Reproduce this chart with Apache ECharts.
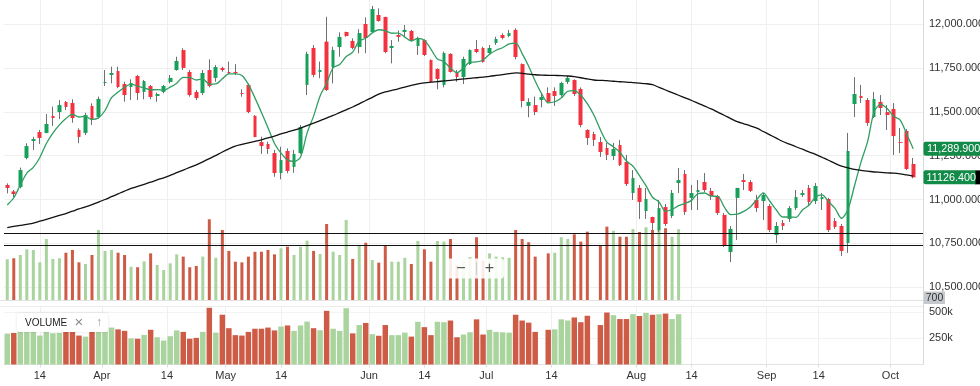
<!DOCTYPE html>
<html><head><meta charset="utf-8">
<script src="https://cdn.jsdelivr.net/npm/echarts@6/dist/echarts.min.js"></script>
<style>html,body{margin:0;padding:0;background:#fff}#c{width:980px;height:386px}</style>
</head><body><div id="c"></div>
<script>
// [open, close, low, high]
const ohlc = [
[11083,11066,11035,11092],[11046,11031,11014,11054],[11071,11168,11064,11182],[11237,11305,11229,11321],[11334,11345,11283,11358],
[11385,11351,11317,11397],[11380,11431,11378,11488],[11477,11465,11420,11530],[11499,11539,11459,11568],[11557,11528,11511,11562],
[11551,11465,11438,11572],[11397,11357,11321,11406],[11380,11482,11368,11495],[11534,11454,11425,11549],[11471,11574,11463,11587],
[11665,11671,11648,11739],[11711,11722,11663,11758],[11733,11642,11635,11758],[11659,11596,11558,11672],[11642,11665,11568,11686],
[11705,11608,11568,11711],[11614,11676,11572,11682],[11648,11585,11572,11654],[11591,11602,11558,11610],[11614,11648,11606,11654],
[11671,11694,11663,11711],[11739,11791,11735,11815],[11853,11751,11739,11863],[11728,11596,11587,11739],[11614,11579,11568,11625],
[11608,11722,11596,11739],[11739,11648,11640,11800],[11694,11756,11672,11768],[11751,11739,11729,11758],[11728,11722,11716,11787],
[11728,11722,11711,11773],[11608,11602,11587,11629],[11654,11499,11492,11663],[11477,11357,11355,11482],[11328,11305,11260,11358],
[11317,11288,11260,11330],[11265,11151,11130,11283],[11151,11225,11115,11301],[11277,11163,11150,11292],[11186,11260,11153,11283],
[11265,11414,11260,11425],[11654,11831,11596,11844],[11865,11711,11698,11882],[11728,11739,11692,11787],[11901,11625,11620,12043],
[11756,11853,11663,11872],[11870,11928,11815,11954],[11956,11933,11929,11958],[11905,11865,11857,11920],[11870,11950,11835,11972],
[12002,11922,11835,12040],[11956,12087,11949,12105],[12053,12019,12015,12091],[12042,11842,11835,12043],[11865,11876,11777,11910],
[11939,11928,11901,11964],[11956,11968,11929,11996],[11962,11910,11901,11968],[11876,11916,11825,11929],[11910,11825,11819,11914],
[11796,11671,11667,11800],[11745,11688,11629,11749],[11654,11836,11640,11844],[11831,11728,11724,11835],[11728,11699,11672,11739],
[11699,11802,11659,11815],[11773,11853,11768,11857],[11859,11842,11835,11910],[11865,11785,11781,11872],[11836,11865,11831,11882],
[11893,11916,11882,11929],[11939,11922,11914,11949],[11933,11950,11926,11968],[11968,11813,11800,11977],[11773,11562,11526,11777],
[11534,11557,11469,11578],[11539,11499,11482,11587],[11568,11585,11526,11606],[11608,11557,11549,11640],[11619,11591,11534,11640],
[11596,11665,11587,11672],[11671,11694,11659,11705],[11682,11602,11591,11686],[11631,11425,11412,11640],[11397,11351,11311,11401],
[11374,11340,11305,11387],[11328,11271,11243,11357],[11294,11254,11225,11323],[11248,11288,11225,11323],[11311,11197,11191,11340],
[11214,11088,11077,11254],[11037,11123,10997,11168],[11066,10986,10889,11083],[10934,11003,10889,11066],[10900,10866,10826,10902],
[10826,10951,10814,10997],[10957,10860,10849,10974],[10906,11037,10894,11054],[11094,11111,11037,11180],[11146,10929,10912,11168],
[11009,11037,10940,11083],[11043,11054,10940,11111],[11100,11054,11043,11151],[11049,11020,10997,11066],[11020,10923,10912,11026],
[10912,10740,10729,10923],[10700,10832,10643,10849],[11009,11066,10769,11066],[11111,11100,11054,11146],[11100,11049,11043,11111],
[10997,10951,10929,11026],[10991,11026,10883,11037],[10963,10826,10814,10974],[10797,10849,10752,10872],[10866,10849,10826,10883],
[10889,10951,10872,10963],[10951,11014,10940,11054],[11026,11037,11014,11054],[11066,10986,10969,11083],[10991,11077,10974,11094],
[11003,11014,10940,11037],[11003,10826,10814,11009],[10877,10843,10832,10894],[10849,10706,10678,10860],[10752,11277,10695,11380],
[11545,11602,11471,11699],[11591,11579,11551,11654],[11568,11437,11420,11579],[11471,11574,11465,11614],[11557,11522,11482,11596],
[11499,11482,11397,11539],[11517,11362,11254,11551],[11328,11323,11265,11408],[11391,11174,11168,11402],[11203,11126.4,11121,11237]
];
const maFast = [
10969,11010,11083,11151,11183,11240,11320,11379,11426,11463,
11486,11471,11474,11457,11466,11508,11581,11613,11641,11659,
11647,11637,11626,11627,11624,11641,11664,11697,11696,11682,
11688,11659,11660,11689,11717,11717,11708,11657,11580,11497,
11410,11320,11265,11226,11217,11243,11379,11476,11591,11664,
11752,11771,11816,11841,11906,11920,11951,11969,11964,11949,
11950,11927,11905,11920,11909,11858,11802,11787,11750,11724,
11751,11784,11785,11796,11829,11852,11866,11888,11893,11833,
11761,11676,11603,11552,11558,11579,11618,11622,11595,11547,
11482,11398,11328,11301,11270,11220,11190,11136,11079,11013,
10986,10933,10943,10965,10978,10995,11034,11037,11019,11018,
10958,10914,10916,10932,10957,11000,11038,10990,10940,10900,
10900,10898,10940,10967,11013,11026,10988,10949,10893,10945,
11080,11215,11330,11500,11543,11519,11475,11453,11373,11289.9
];
const maSlow = [
10840,10846,10852,10858,10865,10876,10887,10898,10909,10920,
10933,10946,10958,10971,10985,11000,11016,11032,11048,11063,
11075,11087,11099,11112,11124,11138,11153,11168,11183,11198,
11215,11233,11252,11271,11289,11305,11314,11323,11332,11341,
11352,11362,11374,11385,11396,11408,11422,11436,11450,11465,
11480,11496,11512,11528,11546,11565,11583,11602,11614,11623,
11632,11642,11651,11660,11666,11670,11673,11677,11680,11684,
11688,11691,11695,11699,11703,11708,11713,11718,11723,11720,
11716,11712,11710,11709,11708,11707,11705,11701,11695,11688,
11682,11680,11678,11675,11672,11670,11667,11664,11661,11655,
11640,11625,11610,11595,11580,11565,11549,11533,11517,11499,
11481,11462,11444,11432,11420,11407,11388,11369,11350,11331,
11316,11301,11287,11272,11258,11241,11224,11206,11190,11181,
11172,11166,11162,11157,11155,11152,11150,11146,11140,11134
];
const volume = [
294000,300000,320000,355000,351000,275000,418000,296000,300000,334000,
351000,275000,265000,320000,473000,345000,351000,334000,320000,248000,
245000,281000,330000,259000,228000,269000,324000,310000,245000,253000,
310000,539000,303000,473000,345000,279000,275000,310000,340000,340000,
351000,324000,361000,371000,320000,371000,408000,345000,326000,510000,
340000,320000,535000,296000,375000,395000,289000,273000,375000,279000,
279000,303000,265000,406000,355000,279000,406000,402000,418000,259000,
285000,307000,429000,285000,330000,310000,306000,303000,473000,418000,
398000,310000,0,330000,334000,429000,418000,447000,402000,463000,
0,375000,494000,469000,432000,432000,479000,461000,490000,473000,
478000,484000,432000,478000
];
const volumeUp = [
1,0,1,1,1,1,1,1,1,0, 0,0,1,0,1,1,1,0,0,1, 0,1,0,1,1,1,1,0,0,0, 1,0,1,0,0,0,0,0,0,0,
0,0,1,0,1,1,1,0,1,0, 1,1,1,0,1,0,1,0,0,1, 1,1,0,1,0,0,1,1,0,0, 1,1,0,0,1,1,1,1,0,0,
0,0,0,0,1,1,1,0,0,0, 0,0,0,1,0,0,1,0,1,0, 1,0,1,1
];
const levels = [10805, 10737];
const tickLabels = ['14','Apr','14','May','14','Jun','14','Jul','14','Aug','14','Sep','14','Oct'];
const tickAt = [5,14.5,24.5,33.5,42,55.5,64,73.5,83.5,96.5,105,116.5,124.5,135.5];
const volumeBadge = '700';

const UP = '#17a05a', DOWN = '#f2333f', WICK = '#707070';
const VUP = '#a9d49d', VDOWN = '#cd5b46';
const FONT = '"Liberation Sans", Arial, Helvetica, sans-serif';

const SLOTS = ohlc.length + 1;
const cats = Array.from({length: SLOTS}, (_, i) => String(i));
const halfCats = Array.from({length: SLOTS * 2 + 1}, (_, j) => 'h' + j);
const labelMap = {};
tickAt.forEach((p, k) => { labelMap['h' + (2 * p + 1)] = tickLabels[k]; });
const atTick = (i, v) => labelMap[v] !== undefined;

const bodyData = ohlc.map(d => [d[0], d[1], Math.min(d[0], d[1]), Math.max(d[0], d[1])]);
const volData = volume.map((v, i) => ({value: v, itemStyle: {color: volumeUp[i] ? VUP : VDOWN}}));

const L = 4, R = 57;
const fmtPrice = v => Number(v).toLocaleString('en-US', {minimumFractionDigits: 3, maximumFractionDigits: 3});

const option = {
  animation: false,
  backgroundColor: '#ffffff',
  grid: [
    {left: L, right: R, top: -19.5, height: 306.6, outerBoundsMode: 'none', containLabel: false},
    {left: L, right: R, top: 0, height: 300, outerBoundsMode: 'none', containLabel: false},
    {left: L, right: R, top: 306, height: 58.5, outerBoundsMode: 'none', containLabel: false}
  ],
  xAxis: [
    {type: 'category', gridIndex: 0, data: cats, show: false},
    {type: 'category', gridIndex: 1, data: cats, show: false, position: 'bottom'},
    {type: 'category', gridIndex: 2, data: cats, show: false, position: 'top'},
    {type: 'category', gridIndex: 1, data: halfCats, boundaryGap: false, position: 'top',
     axisLine: {show: false}, axisTick: {show: false}, axisLabel: {show: false},
     splitLine: {show: true, interval: atTick, lineStyle: {color: '#efefef', width: 1}}},
    {type: 'category', gridIndex: 2, data: halfCats, boundaryGap: false, position: 'bottom',
     axisLine: {show: true, lineStyle: {color: '#e3e3e3'}},
     axisTick: {show: true, interval: atTick, length: 3, lineStyle: {color: '#dddddd'}},
     axisLabel: {show: true, interval: atTick, formatter: v => labelMap[v] || '', color: '#333', fontSize: 11, fontFamily: FONT, margin: 6, hideOverlap: false},
     splitLine: {show: true, interval: atTick, lineStyle: {color: '#efefef', width: 1}}}
  ],
  yAxis: [
    {type: 'value', gridIndex: 0, position: 'right', min: 10500, max: 12250, interval: 250, scale: true,
     axisLine: {show: false}, axisTick: {show: false},
     axisLabel: {formatter: fmtPrice, color: '#333', fontSize: 11, fontFamily: FONT, margin: 6},
     splitLine: {show: true, lineStyle: {color: '#efefef', width: 1}}},
    {type: 'value', gridIndex: 1, min: 44200, max: 1883000, show: false, splitLine: {show: false}},
    {type: 'value', gridIndex: 2, position: 'right', min: 0, max: 556000, interval: 250000,
     axisLine: {show: false}, axisTick: {show: false},
     axisLabel: {formatter: v => (v / 1000) + 'k', color: '#333', fontSize: 11, fontFamily: FONT, margin: 6, showMinLabel: false, showMaxLabel: false},
     splitLine: {show: true, lineStyle: {color: '#f3f3f3', width: 1}}}
  ],
  series: [
    {type: 'bar', name: 'vol-overlay', xAxisIndex: 1, yAxisIndex: 1, data: volData, barWidth: 3, z: 1, clip: true, silent: true},
    {type: 'bar', name: 'VOLUME', xAxisIndex: 2, yAxisIndex: 2, data: volData, barWidth: '84%', z: 1, silent: true},
    {type: 'candlestick', name: 'wick', xAxisIndex: 0, yAxisIndex: 0, data: ohlc, barWidth: 1, z: 3, silent: true,
     itemStyle: {color: WICK, color0: WICK, borderColor: WICK, borderColor0: WICK, borderColorDoji: WICK, borderWidth: 1}},
    {type: 'candlestick', name: 'price', xAxisIndex: 0, yAxisIndex: 0, data: bodyData, barWidth: 4.2, z: 4, silent: true,
     itemStyle: {color: UP, color0: DOWN, borderColor: UP, borderColor0: DOWN, borderWidth: 0},
     markLine: {silent: true, symbol: 'none', label: {show: false},
       lineStyle: {color: '#111', width: 1.2, type: 'solid'},
       data: levels.map(v => ({yAxis: v}))}},
    {type: 'line', name: 'MA fast', xAxisIndex: 0, yAxisIndex: 0, data: maFast, symbol: 'none', smooth: 0.3, z: 5,
     lineStyle: {color: '#2f9e62', width: 1.3}},
    {type: 'line', name: 'MA slow', xAxisIndex: 0, yAxisIndex: 0, data: maSlow, symbol: 'none', smooth: 0.3, z: 5,
     lineStyle: {color: '#111111', width: 1.3}}
  ]
};

const chart = echarts.init(document.getElementById('c'), null, {renderer: 'canvas'});
chart.setOption(option);

const axisX = 980 - R;
const lastMa = maFast[maFast.length - 1];
const lastClose = ohlc[ohlc.length - 1][1];
const yMa = chart.convertToPixel({yAxisIndex: 0}, lastMa);
const yClose = chart.convertToPixel({yAxisIndex: 0}, lastClose);

function txt(x, y, s, size, fill, align) {
  return {type: 'text', z: 100, style: {text: s, x: x, y: y, fill: fill,
    font: size + 'px ' + FONT, align: align || 'left', verticalAlign: 'middle',
    textAlign: align || 'left', textVerticalAlign: 'middle'}};
}

const graphics = [
  {type: 'line', z: 50, shape: {x1: axisX + 0.5, y1: 0, x2: axisX + 0.5, y2: 364.5}, style: {stroke: '#d9d9d9', lineWidth: 1}},
  {type: 'line', z: 50, shape: {x1: 0, y1: 300.5, x2: axisX, y2: 300.5}, style: {stroke: '#e2e2e2', lineWidth: 1}},
  {type: 'line', z: 50, shape: {x1: 0, y1: 306.5, x2: axisX, y2: 306.5}, style: {stroke: '#ececec', lineWidth: 1}},
  // price tags
  {type: 'rect', z: 90, shape: {x: axisX + 0.5, y: yMa - 7, width: 60, height: 14, r: [2, 0, 0, 2]}, style: {fill: '#128a48'}},
  txt(axisX + 4, yMa + 0.5, fmtPrice(lastMa), 10.8, '#ffffff', 'left'),
  {type: 'rect', z: 89, shape: {x: 975, y: yClose - 7, width: 6, height: 14}, style: {fill: '#000000'}},
  {type: 'rect', z: 90, shape: {x: axisX + 0.5, y: yClose - 7, width: 52, height: 14, r: [2, 0, 0, 2]}, style: {fill: '#128a48'}},
  txt(axisX + 3.5, yClose + 0.5, lastClose.toFixed(3), 10.8, '#ffffff', 'left'),
  // volume badge
  {type: 'rect', z: 90, shape: {x: axisX + 1, y: 291.5, width: 21, height: 12.5}, style: {fill: '#c5c8cd'}},
  txt(axisX + 11.5, 298, volumeBadge, 10.5, '#333333', 'center'),
  // VOLUME legend box
  {type: 'rect', z: 90, shape: {x: 17, y: 313, width: 91, height: 19, r: 2},
   style: {fill: '#ffffff', shadowBlur: 3, shadowColor: 'rgba(0,0,0,0.12)'}},
  txt(25, 323, 'VOLUME', 10, '#222222', 'left'),
  txt(79, 323, '\u00d7', 15, '#8a8a8a', 'center'),
  txt(99, 323, '\u2191', 12, '#9a9a9a', 'center'),
  // zoom control
  {type: 'rect', z: 90, shape: {x: 446, y: 258.5, width: 58, height: 20, r: 3},
   style: {fill: 'rgba(255,255,255,0.88)'}},
  txt(461, 268.5, '\u2212', 16, '#555555', 'center'),
  {type: 'line', z: 91, shape: {x1: 476.5, y1: 262, x2: 476.5, y2: 275}, style: {stroke: '#cfcfcf', lineWidth: 1}},
  txt(489.5, 268.5, '+', 16, '#555555', 'center')
];
chart.setOption({graphic: graphics});
</script>
</body></html>
